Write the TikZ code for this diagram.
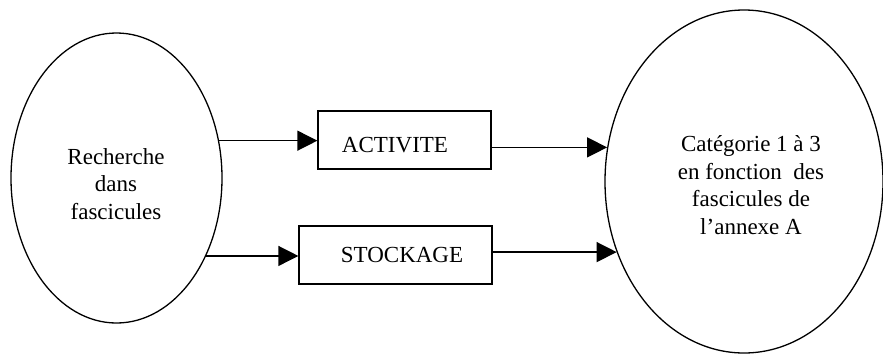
\documentclass[tikz,border=0pt]{standalone}
\usepackage{fontspec}
\setmainfont{Liberation Serif}
\usetikzlibrary{arrows.meta,shapes.geometric}
\begin{document}
\begin{tikzpicture}[x=1pt,y=-1pt, line width=1.3pt,
  oval/.style={draw, ellipse, inner sep=0pt},
  box/.style={draw, rectangle, inner sep=0pt},
  lbl/.style={font=\fontsize{23}{27.5}\selectfont, align=center, inner sep=0pt},
  arr/.style={-{Triangle[length=20pt,width=20pt]}}]
\useasboundingbox (0,0) rectangle (883,354);
\node[oval, minimum width=211pt, minimum height=290pt] (L) at (116.5,178) {};
\node[oval, minimum width=278pt, minimum height=343pt] (R) at (744,181.5) {};
\node[box, minimum width=173pt, minimum height=58pt] (A) at (404.5,140) {};
\node[box, minimum width=193pt, minimum height=58pt] (S) at (395.5,255) {};
\node[lbl, anchor=base] (Lt) at (116,219) {Recherche\\dans\\fascicules};
\node[lbl, anchor=base] (Rt) at (751,234) {Catégorie 1 à 3\\en fonction~ des\\fascicules de\\l’annexe A};
\node[lbl, anchor=base] (At) at (395,152) {ACTIVITE};
\node[lbl, anchor=base] (St) at (402,262.5) {STOCKAGE};
\draw[arr] (L.20.5) -- (L.20.5 -| A.west);
\draw[arr] (L.-41.1) -- (L.-41.1 -| S.west);
\draw[arr] (R.166.6 -| A.east) -- (R.166.6);
\draw[arr] (R.209.4 -| S.east) -- (R.209.4);
\end{tikzpicture}
\end{document}
